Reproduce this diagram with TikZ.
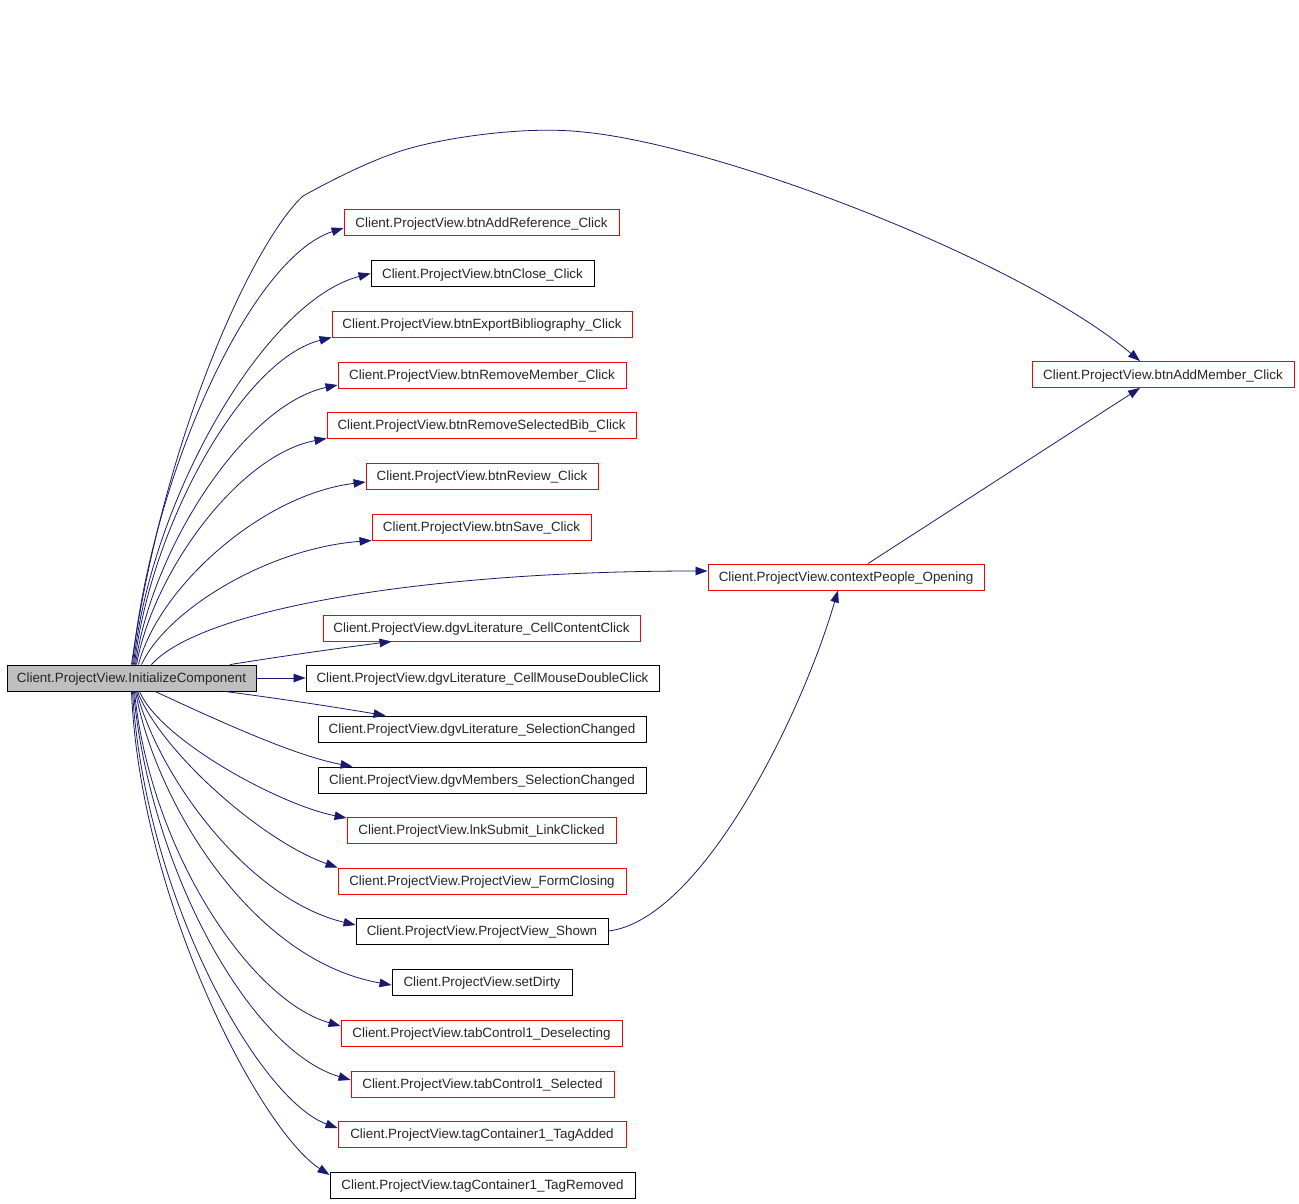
\documentclass[tikz,border=0pt]{standalone}
\usepackage{fontspec}
\setmainfont{Liberation Sans}
\usetikzlibrary{arrows.meta,calc}
\definecolor{edgeblue}{HTML}{191970}
\definecolor{boxred}{HTML}{FF0000}
\definecolor{boxgray}{HTML}{BFBFBF}
\begin{document}
\begin{tikzpicture}[x=1pt,y=-1pt,
  box/.style={draw=black,line width=0.9pt,minimum height=26pt,inner sep=0pt,text height=11.5pt,text depth=2pt,font=\fontsize{13.4}{15}\selectfont,text=black!85},
  redbox/.style={box,draw=boxred},
  edge/.style={draw=edgeblue,line width=0.8pt,-{Triangle[length=12pt,width=8.5pt]}}]
\useasboundingbox (0,0) rectangle (1299,1204);
\fill[white] (0,0) rectangle (1299,1204);
% nodes
\node[box,fill=boxgray,minimum width=249pt] (init) at (131.5,678) {Client.ProjectView.InitializeComponent};
\node[redbox,minimum width=275pt] (addref) at (481.5,222.5) {Client.ProjectView.btnAddReference\_Click};
\node[box,minimum width=223pt] (close) at (482.5,273.5) {Client.ProjectView.btnClose\_Click};
\node[redbox,minimum width=300pt] (export) at (482,324) {Client.ProjectView.btnExportBibliography\_Click};
\node[redbox,minimum width=288pt] (remmember) at (482,375) {Client.ProjectView.btnRemoveMember\_Click};
\node[redbox,minimum width=309pt] (remsel) at (481.5,425) {Client.ProjectView.btnRemoveSelectedBib\_Click};
\node[redbox,minimum width=232pt] (review) at (482,476) {Client.ProjectView.btnReview\_Click};
\node[redbox,minimum width=219pt] (save) at (481.5,527) {Client.ProjectView.btnSave\_Click};
\node[redbox,minimum width=276pt] (ctx) at (846,577) {Client.ProjectView.contextPeople\_Opening};
\node[redbox,minimum width=317pt] (cellcontent) at (481.5,628) {Client.ProjectView.dgvLiterature\_CellContentClick};
\node[box,minimum width=353pt] (celldouble) at (482.5,678) {Client.ProjectView.dgvLiterature\_CellMouseDoubleClick};
\node[box,minimum width=328pt] (litsel) at (482,729) {Client.ProjectView.dgvLiterature\_SelectionChanged};
\node[box,minimum width=328pt] (memsel) at (482,780) {Client.ProjectView.dgvMembers\_SelectionChanged};
\node[redbox,minimum width=269pt] (lnk) at (481.5,830) {Client.ProjectView.lnkSubmit\_LinkClicked};
\node[redbox,minimum width=288pt] (formclosing) at (482,881) {Client.ProjectView.ProjectView\_FormClosing};
\node[box,minimum width=252pt] (shown) at (482,931) {Client.ProjectView.ProjectView\_Shown};
\node[box,minimum width=180pt] (setdirty) at (482,982) {Client.ProjectView.setDirty};
\node[redbox,minimum width=281pt] (deselecting) at (481.5,1033) {Client.ProjectView.tabControl1\_Deselecting};
\node[redbox,minimum width=263pt] (selected) at (482.5,1084) {Client.ProjectView.tabControl1\_Selected};
\node[redbox,minimum width=288pt] (tagadded) at (482,1134) {Client.ProjectView.tagContainer1\_TagAdded};
\node[box,minimum width=305pt] (tagremoved) at (482.5,1185) {Client.ProjectView.tagContainer1\_TagRemoved};
\node[redbox,minimum width=262pt] (addmember) at (1163,374.5) {Client.ProjectView.btnAddMember\_Click};
% edges upward
\draw[edge] (init.north) .. controls (165,430) and (255,240) .. (303,196) .. controls (350,170) and (380,158) .. (395,153) .. controls (430,140) and (520,125) .. (583,132) .. controls (720,145) and (1020,260) .. ($(addmember.north)+(-23,0)$);
\draw[edge] ($(init.north)+(1,0)$) .. controls (150,481.5) and (249,258.6) .. ($(addref.west)+(0,5.5)$);
\draw[edge] ($(init.north)+(2,0)$) .. controls (150,500.5) and (264.3,300.9) .. (close.west);
\draw[edge] ($(init.north)+(3,0)$) .. controls (150,527.1) and (242.4,359.7) .. (export.south west);
\draw[edge] ($(init.north)+(4,0)$) .. controls (152,547.4) and (245.8,404.6) .. ($(remmember.west)+(0,10)$);
\draw[edge] ($(init.north)+(5,0)$) .. controls (154,570) and (239.7,454.8) .. (remsel.south west);
\draw[edge] ($(init.north)+(7,0)$) .. controls (158,588) and (261.5,494.5) .. ($(review.west)+(0,6)$);
\draw[edge] ($(init.north)+(10,0)$) .. controls (165,612.5) and (264.4,548.75) .. (save.south west);
\draw[edge] ($(init.north)+(20,0)$) .. controls (200,610) and (420,571) .. ($(ctx.west)+(0,-6)$);
\draw[edge] ($(init.north)+(98.5,0)$) .. controls (290,655) and (340,648) .. ($(cellcontent.south west)+(69,0)$);
% straight
\draw[edge] (init.east) -- (celldouble.west);
% edges downward
\draw[edge] ($(init.south)+(93.5,0)$) .. controls (290,700) and (340,708) .. ($(litsel.north west)+(68,0)$);
\draw[edge] ($(init.south)+(23.5,0)$) .. controls (200,712) and (290,755) .. ($(memsel.north west)+(35,0)$);
\draw[edge] ($(init.south)+(8,0)$) .. controls (160,740) and (280,805) .. ($(lnk.west)+(0,-12)$);
\draw[edge] ($(init.south)+(6,0)$) .. controls (160,750) and (260,840) .. (formclosing.north west);
\draw[edge] ($(init.south)+(5,0)$) .. controls (160,780) and (250,900) .. ($(shown.west)+(0,-6)$);
\draw[edge] ($(init.south)+(4,0)$) .. controls (155,800) and (250,960) .. ($(setdirty.west)+(0,3)$);
\draw[edge] ($(init.south)+(3,0)$) .. controls (150,850) and (250,1000) .. ($(deselecting.west)+(0,-7)$);
\draw[edge] ($(init.south)+(2,0)$) .. controls (150,870) and (250,1050) .. ($(selected.west)+(0,-4)$);
\draw[edge] ($(init.south)+(1,0)$) .. controls (145,900) and (260,1100) .. ($(tagadded.west)+(0,-6)$);
\draw[edge] (init.south) .. controls (140,900) and (260,1130) .. ($(tagremoved.west)+(0,-10)$);
% other edges
\draw[edge] (shown.east) .. controls (700,920) and (800,720) .. ($(ctx.south)+(-8,0)$);
\draw[edge] ($(ctx.north)+(22,0)$) -- ($(addmember.south)+(-23,0)$);
\end{tikzpicture}
\end{document}
